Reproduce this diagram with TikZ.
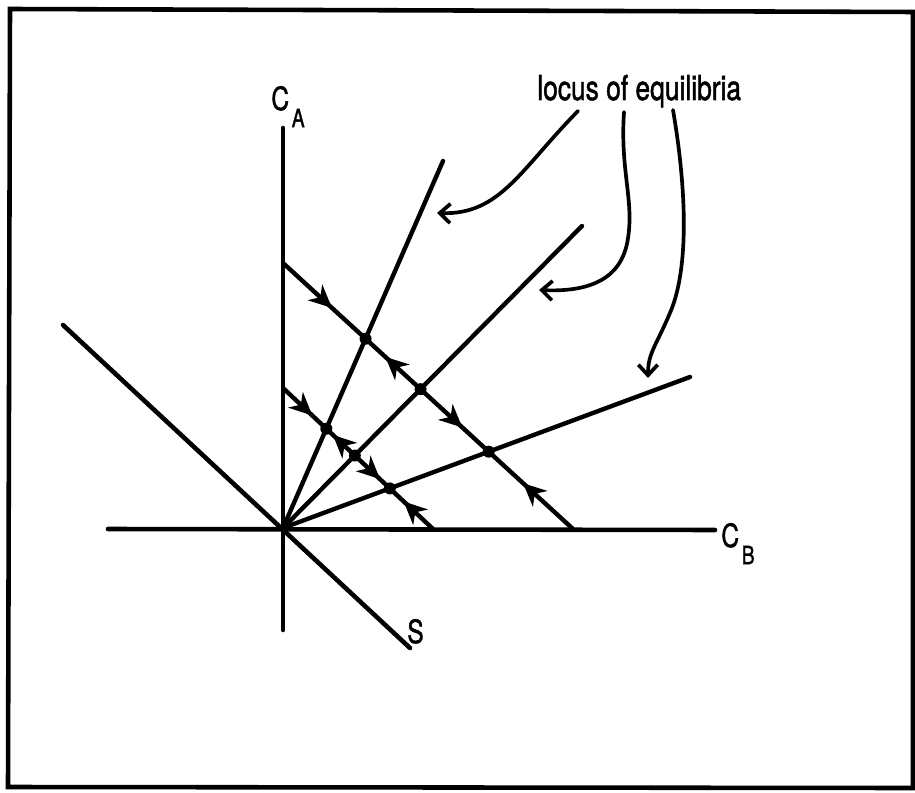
\documentclass[tikz,border=0pt]{standalone}
\usepackage{fontspec}
\setmainfont{TeX Gyre Heros}
\newfontfamily\letterfont[FakeBold=1.6]{TeX Gyre Heros}
\usepackage{graphicx}
\usepackage{tikz}
\usetikzlibrary{arrows.meta, calc, decorations.markings}
\newcommand{\lettering}[1]{\scalebox{1}[1.3]{#1}}
\newcommand{\lowsub}[1]{\kern1.5pt\raisebox{-7.5pt}{\fontsize{11}{12}\selectfont #1}}

\begin{document}
\begin{tikzpicture}[x=0.02cm, y=-0.02cm,
        axis/.style={draw=black, line width=2.6pt, line cap=round},
        ray/.style={draw=black, line width=2.5pt, line cap=round},
        flow/.style={draw=black, line width=2.5pt, postaction={decorate},
            decoration={markings, mark=at position 0.5 with {\arrow[xshift=6pt]{Stealth[length=13pt, width=12pt, inset=4pt]}}}},
        pointer/.style={draw=black, line width=2.1pt, line cap=round, -{Straight Barb[length=6pt, width=11pt]}},
        eqpt/.style={circle, fill=black, inner sep=0pt, minimum size=0.24cm},
        letters/.style={inner sep=0pt, font=\letterfont\fontsize{14}{16}\selectfont}]

    \useasboundingbox (0,0) rectangle (915,793);
    \draw [line width=2.6pt] (10,9) -- (913,12) -- (913,788) -- (8,787) -- cycle;

    % axes and the S line
    \coordinate (O) at (283,528);
    \coordinate (ytop) at (283,128);
    \coordinate (ybot) at (283,630);
    \coordinate (xleft) at (108,529);
    \coordinate (xright) at (715,530);
    \coordinate (sfar) at (63,325);
    \coordinate (snear) at (410,648);

    % loci and operating lines
    \coordinate (r1) at (443,161);
    \coordinate (r2) at (582,226);
    \coordinate (r3) at (690,377);
    \coordinate (u0) at (283,263);
    \coordinate (u4) at (573,529);
    \coordinate (l0) at (283,388);
    \coordinate (l4) at (433,529);
    \foreach \i in {1,2,3} {
        \coordinate (u\i) at (intersection cs: first line={(O)--(r\i)}, second line={(u0)--(u4)});
        \coordinate (l\i) at (intersection cs: first line={(O)--(r\i)}, second line={(l0)--(l4)});
    }

    \draw [axis] (ytop) -- (ybot);
    \draw [axis] (xleft) -- (xright);
    \draw [axis] (sfar) -- (snear);
    \foreach \r in {r1,r2,r3}
        \draw [ray] (O) -- (\r);

    \foreach \a/\b in {u0/u1,u2/u1,u2/u3,u4/u3,l0/l1,l2/l1,l2/l3,l4/l3}
        \draw [flow] (\a) -- (\b);
    \foreach \p in {u1,u2,u3,l1,l2,l3}
        \node [eqpt] (d\p) at (\p) {};

    % labels
    \node [letters, anchor=base west] (ca) at (271,110) {\lettering{C\lowsub{A}}};
    \node [letters, anchor=base west] (cb) at (721,547) {\lettering{C\lowsub{B}}};
    \node [letters, anchor=base west] (s) at (407,643) {\lettering{S}};
    \node [letters, anchor=base west, font=\letterfont\fontsize{15}{18}\selectfont] (locus) at (537,100) {\lettering{locus of equilibria}};

    % pointers from the label
    \coordinate (p1) at (578,111);
    \coordinate (p2) at (624,112);
    \coordinate (p3) at (673,110);
    \coordinate (t1) at (437,213);
    \coordinate (t2) at (539,290);
    \coordinate (t3) at (648,378);
    \draw [pointer] (p1) .. controls (520,170) and (500,215) .. (t1);
    \draw [pointer] (p2) .. controls (620,170) and (634,200) .. (628,238) .. controls (622,282) and (585,292) .. (t2);
    \draw [pointer] (p3) .. controls (685,180) and (690,260) .. (672,308) .. controls (657,345) and (648,352) .. (t3);
\end{tikzpicture}
\end{document}
